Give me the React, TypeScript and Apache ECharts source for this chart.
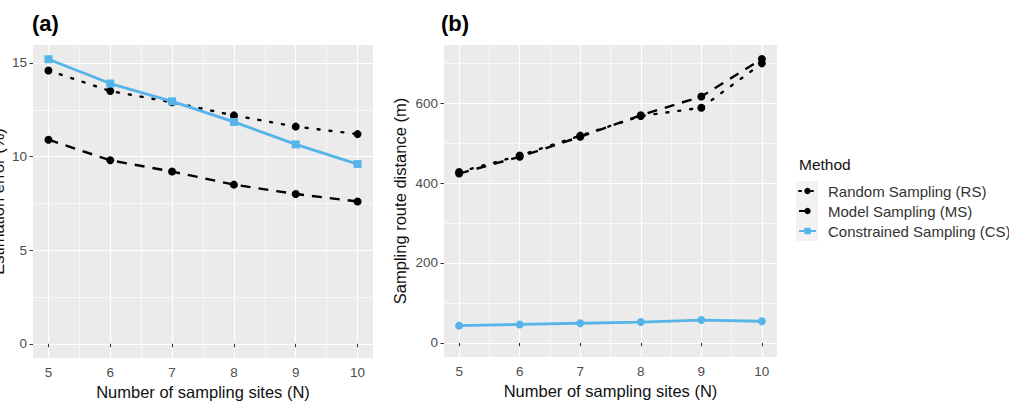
import React, { useEffect, useRef } from "react";
import * as echarts from "echarts";

// Number of sampling sites (N)
const sites = [5, 6, 7, 8, 9, 10];

// Panel (a): estimation error (%)
const errorRS = [14.6, 13.5, 12.9, 12.2, 11.6, 11.2];
const errorMS = [10.9, 9.8, 9.2, 8.5, 8.0, 7.6];
const errorCS = [15.2, 13.9, 12.95, 11.85, 10.65, 9.6];

// Panel (b): sampling route distance (m)
const distRS = [428, 469, 519, 568, 589, 700];
const distMS = [424, 466, 516, 570, 617, 711];
const distCS = [43, 46, 49, 52, 57, 54];

// Axis ticks and minor grid values
const xTicks = [5, 6, 7, 8, 9, 10];
const xMinor = [5.5, 6.5, 7.5, 8.5, 9.5];
const errorTicks = [0, 5, 10, 15];
const errorMinor = [2.5, 7.5, 12.5];
const distTicks = [0, 200, 400, 600];
const distMinor = [100, 300, 500, 700];

const methods = [
  "Random Sampling (RS)",
  "Model Sampling (MS)",
  "Constrained Sampling (CS)",
];

const FONT = "'Liberation Sans', Arial, Helvetica, sans-serif";
const BLUE = "#56b4e9";

const pairs = (ys: number[]) => sites.map((s, i) => [s, ys[i]]);

function majorAxis(
  gridIndex: number,
  min: number,
  max: number,
  ticks: number[],
  name: string,
  nameGap: number,
  labelMargin: number
) {
  return {
    type: "value",
    gridIndex,
    min,
    max,
    name,
    nameLocation: "middle",
    nameGap,
    nameMoveOverlap: false,
    nameTextStyle: { fontFamily: FONT, fontSize: 16.5, color: "#111" },
    axisLine: { show: false },
    axisTick: {
      show: true,
      customValues: ticks,
      length: 3.5,
      lineStyle: { color: "#333", width: 1 },
    },
    axisLabel: {
      show: true,
      customValues: ticks,
      color: "#4d4d4d",
      fontFamily: FONT,
      fontSize: 13.5,
      margin: labelMargin,
    },
    splitLine: { show: true, lineStyle: { color: "#ffffff", width: 1.2 } },
  };
}

function minorAxis(gridIndex: number, min: number, max: number, values: number[]) {
  return {
    type: "value",
    gridIndex,
    min,
    max,
    axisLine: { show: false },
    axisTick: { show: false, customValues: values },
    axisLabel: { show: false, customValues: values },
    splitLine: { show: true, lineStyle: { color: "#ffffff", width: 0.6 } },
  };
}

function lineSeries(
  name: string,
  xAxisIndex: number,
  yAxisIndex: number,
  values: number[],
  kind: "dotted" | "dashed" | "solid",
  square = false
) {
  const isBlue = kind === "solid";
  const color = isBlue ? BLUE : "#000000";
  return {
    name,
    type: "line",
    xAxisIndex,
    yAxisIndex,
    data: pairs(values),
    symbol: square ? "rect" : "circle",
    symbolSize: 8,
    itemStyle: { color },
    lineStyle: {
      color,
      width: isBlue ? 2.8 : 2.4,
      type: kind === "dotted" ? [2, 10] : kind === "dashed" ? [10, 8] : "solid",
      cap: kind === "dotted" ? "round" : "butt",
    },
    z: isBlue ? 3 : 2,
  };
}

export default function App() {
  const ref = useRef<HTMLDivElement>(null);

  useEffect(() => {
    if (!ref.current) return;
    const chart = echarts.init(ref.current, null, { renderer: "svg" });
    const gridBase = {
      show: true,
      backgroundColor: "#ebebeb",
      borderWidth: 0,
      containLabel: false,
      outerBoundsMode: "none",
    };
    chart.setOption({
      animation: false,
      backgroundColor: "#ffffff",
      textStyle: { fontFamily: FONT },
      title: [
        {
          text: "(a)",
          left: 32,
          top: 12,
          padding: 0,
          textStyle: { fontFamily: FONT, fontSize: 22, fontWeight: "bold", color: "#000" },
        },
        {
          text: "(b)",
          left: 441,
          top: 12,
          padding: 0,
          textStyle: { fontFamily: FONT, fontSize: 22, fontWeight: "bold", color: "#000" },
        },
      ],
      grid: [
        { ...gridBase, left: 33, top: 45, width: 340, height: 313 },
        { ...gridBase, left: 444, top: 45, width: 333, height: 312 },
      ],
      xAxis: [
        majorAxis(0, 4.75, 10.25, xTicks, "Number of sampling sites (N)", 25, 7),
        minorAxis(0, 4.75, 10.25, xMinor),
        majorAxis(1, 4.75, 10.25, xTicks, "Number of sampling sites (N)", 25, 7),
        minorAxis(1, 4.75, 10.25, xMinor),
      ],
      yAxis: [
        majorAxis(0, -0.76, 15.96, errorTicks, "Estimation error (%)", 27, 6),
        minorAxis(0, -0.76, 15.96, errorMinor),
        majorAxis(1, -35.5, 746, distTicks, "Sampling route distance (m)", 36, 6),
        minorAxis(1, -35.5, 746, distMinor),
      ],
      legend: {
        orient: "vertical",
        left: 798,
        top: 181,
        itemWidth: 17,
        itemHeight: 8,
        itemGap: 0,
        padding: 0,
        data: methods,
        textStyle: {
          fontFamily: FONT,
          fontSize: 15,
          lineHeight: 20,
          color: "#333",
          padding: [0, 0, 0, 7],
        },
      },
      graphic: [
        {
          type: "rect",
          left: 796,
          top: 181,
          shape: { width: 22, height: 60 },
          style: { fill: "#f2f2f2" },
          z: 0,
        },
        {
          type: "text",
          left: 799,
          top: 156,
          style: { text: "Method", font: `15.5px ${FONT}`, fill: "#111" },
        },
      ],
      series: [
        lineSeries(methods[0], 0, 0, errorRS, "dotted"),
        lineSeries(methods[1], 0, 0, errorMS, "dashed"),
        lineSeries(methods[2], 0, 0, errorCS, "solid", true),
        lineSeries(methods[0], 2, 2, distRS, "dotted"),
        lineSeries(methods[1], 2, 2, distMS, "dashed"),
        lineSeries(methods[2], 2, 2, distCS, "solid"),
      ],
    });
    return () => chart.dispose();
  }, []);

  return (
    <div
      ref={ref}
      style={{ position: "fixed", left: 0, top: 0, width: 1009, height: 402 }}
    />
  );
}
